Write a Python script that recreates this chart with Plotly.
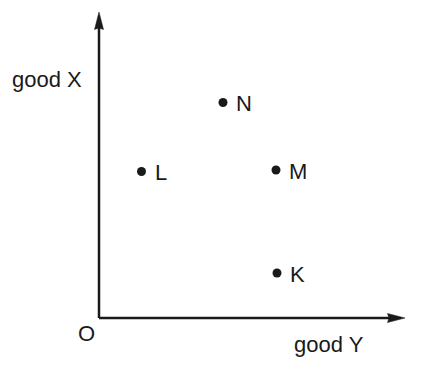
import plotly.graph_objects as go

# ---- data ----
points = ["K", "L", "M", "N"]
good_y = [17.8, 4.25, 17.7, 12.4]   # horizontal axis
good_x = [4.5, 14.65, 14.8, 21.55]  # vertical axis

axis_end = 30.6          # length of both axes (data units)
x_axis_title = "good Y"
y_axis_title = "good X"
origin_label = "O"

# ---- styling ----
INK = "#1a1a1a"
FONT = dict(family="Liberation Sans, Arial, Helvetica, sans-serif", size=22, color=INK)
head_len = 1.75
head_half = 0.45
notch = 0.15

fig = go.Figure()

# axis lines (stop at arrowhead base)
fig.add_trace(go.Scatter(x=[0, 0], y=[0, axis_end - head_len + 0.2], mode="lines",
                         line=dict(color=INK, width=2.5), hoverinfo="skip", showlegend=False))
fig.add_trace(go.Scatter(x=[0, axis_end - head_len + 0.2], y=[0, 0], mode="lines",
                         line=dict(color=INK, width=2.5), hoverinfo="skip", showlegend=False))

# arrowheads built from the axis end
t = axis_end
b = axis_end - head_len
fig.add_shape(type="path", xref="x", yref="y",
              path=f"M 0 {t} L {head_half} {b} L 0 {b + notch} L {-head_half} {b} Z",
              fillcolor=INK, line=dict(color=INK, width=0.5))
fig.add_shape(type="path", xref="x", yref="y",
              path=f"M {t} 0 L {b} {head_half} L {b + notch} 0 L {b} {-head_half} Z",
              fillcolor=INK, line=dict(color=INK, width=0.5))

# points
fig.add_trace(go.Scatter(x=good_y, y=good_x, mode="markers",
                         marker=dict(size=9, color=INK), hoverinfo="skip", showlegend=False))

for name, xv, yv in zip(points, good_y, good_x):
    fig.add_annotation(x=xv, y=yv, text=name, showarrow=False, xanchor="left",
                       yanchor="middle", xshift=11, yshift=-1, font=FONT)

# axis titles and origin
fig.add_annotation(x=-5.2, y=23.85, text=y_axis_title, showarrow=False,
                   xanchor="center", yanchor="middle", font=FONT)
fig.add_annotation(x=22.98, y=-2.65, text=x_axis_title, showarrow=False,
                   xanchor="center", yanchor="middle", font=FONT)
fig.add_annotation(x=-1.23, y=-1.5, text=origin_label, showarrow=False,
                   xanchor="center", yanchor="middle", font=FONT)

fig.update_layout(
    width=424, height=378,
    margin=dict(l=0, r=0, t=0, b=0),
    paper_bgcolor="white", plot_bgcolor="white",
    xaxis=dict(range=[-9.9, 32.5], visible=False, fixedrange=True),
    yaxis=dict(range=[-6.0, 31.8], visible=False, fixedrange=True),
    showlegend=False,
)

fig.write_html("out.html")
